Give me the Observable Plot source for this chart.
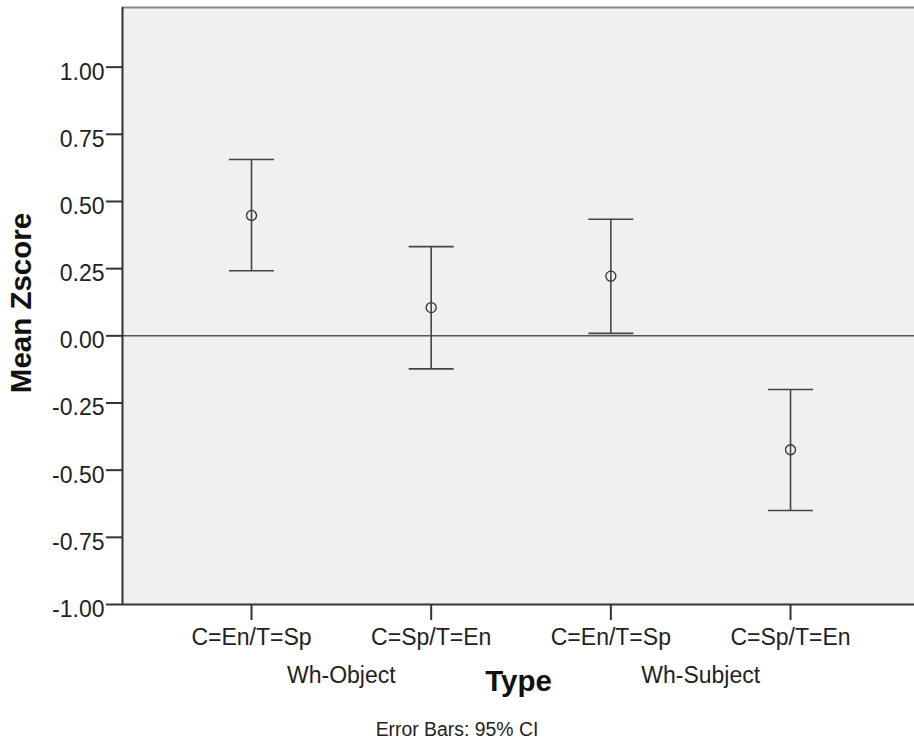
<!DOCTYPE html>
<html>
<head>
<meta charset="utf-8">
<script src="https://cdn.jsdelivr.net/npm/d3@7"></script>
<script src="https://cdn.jsdelivr.net/npm/@observablehq/plot@0.6"></script>
<style>
  html, body { margin: 0; padding: 0; background: #fff; }
  #chart svg { display: block; }
  #caption { width: 914px; text-align: center; font-family: "Liberation Sans", Arial, sans-serif; font-size: 19.4px; line-height: 27px; color: #222; }
</style>
</head>
<body>
<div id="chart"></div>
<div id="caption">Error Bars: 95% CI</div>
<script>
// ---- data ----
const categories = ["C=En/T=Sp", "C=Sp/T=En", "C=En/T=Sp", "C=Sp/T=En"];
const groups = ["Wh-Object", "Wh-Subject"];
const groupPositions = [0.5, 2.5];
const means = [0.448, 0.105, 0.222, -0.424];
const lower = [0.242, -0.123, 0.009, -0.650];
const upper = [0.656, 0.332, 0.434, -0.200];
const yTicks = [-1, -0.75, -0.5, -0.25, 0, 0.25, 0.5, 0.75, 1];

const xDomain = [-0.718, 3.69];
const yDomain = [-1, 1.222];

const data = categories.map((c, i) => ({ i, cat: c, mean: means[i], lower: lower[i], upper: upper[i] }));
const groupData = groups.map((g, k) => ({ g, x: groupPositions[k] }));

const capSymbol = {
  draw(ctx, size) {
    const w = Math.sqrt(size / Math.PI);
    ctx.moveTo(-w, 0);
    ctx.lineTo(w, 0);
  }
};

const font = "'Liberation Sans', Arial, sans-serif";

const chart = Plot.plot({
  width: 914,
  height: 716,
  marginLeft: 122,
  marginRight: 0,
  marginTop: 7,
  marginBottom: 112,
  style: { fontFamily: font, background: "#fff", color: "#222" },
  x: { type: "linear", domain: xDomain },
  y: { domain: yDomain },
  marks: [
    Plot.frame({ fill: "#f0f0f0", stroke: null }),
    Plot.ruleY([0], { stroke: "#555", strokeWidth: 1.6 }),
    Plot.ruleX(data, { x: "i", y1: "lower", y2: "upper", stroke: "#444", strokeWidth: 1.6 }),
    Plot.dot(data, { x: "i", y: "upper", symbol: capSymbol, r: 22.5, fill: "none", stroke: "#444", strokeWidth: 1.6 }),
    Plot.dot(data, { x: "i", y: "lower", symbol: capSymbol, r: 22.5, fill: "none", stroke: "#444", strokeWidth: 1.6 }),
    Plot.dot(data, { x: "i", y: "mean", r: 5, fill: "none", stroke: "#333", strokeWidth: 1.3 }),
    // borders
    Plot.ruleY([yDomain[1]], { stroke: "#888", strokeWidth: 2 }),
    Plot.ruleY([yDomain[0]], { stroke: "#333", strokeWidth: 2 }),
    Plot.ruleX([xDomain[0]], { stroke: "#333", strokeWidth: 2 }),
    // y axis: ticks and labels separately (labels sit a bit low, as in the reference)
    Plot.axisY({ ticks: yTicks, tickSize: 16, text: null, stroke: "#333", strokeWidth: 2, label: null }),
    Plot.axisY({
      ticks: yTicks, tickFormat: d => d.toFixed(2), tickSize: 0, tickPadding: 18,
      fontSize: 23, dy: 5, label: null, fill: "#222"
    }),
    Plot.axisX({
      ticks: [0, 1, 2, 3], tickFormat: i => categories[i], tickSize: 16, tickPadding: 8,
      fontSize: 23, stroke: "#333", strokeWidth: 2, label: null, fill: "#222"
    }),
    // group labels
    Plot.text(groupData, { x: "x", text: "g", frameAnchor: "bottom", lineAnchor: "bottom", dy: 78, fontSize: 23, fill: "#222" }),
    // axis titles
    Plot.text(["Type"], { text: d => d, frameAnchor: "bottom", lineAnchor: "bottom", dy: 86.4, fontSize: 29.5, fontWeight: "bold", fill: "#111" }),
    Plot.text(["Mean Zscore"], { text: d => d, frameAnchor: "left", textAnchor: "middle", rotate: -90, dx: -101, dy: -3, lineAnchor: "middle", fontSize: 29.5, fontWeight: "bold", fill: "#111" })
  ]
});

document.getElementById("chart").appendChild(chart);
</script>
</body>
</html>
